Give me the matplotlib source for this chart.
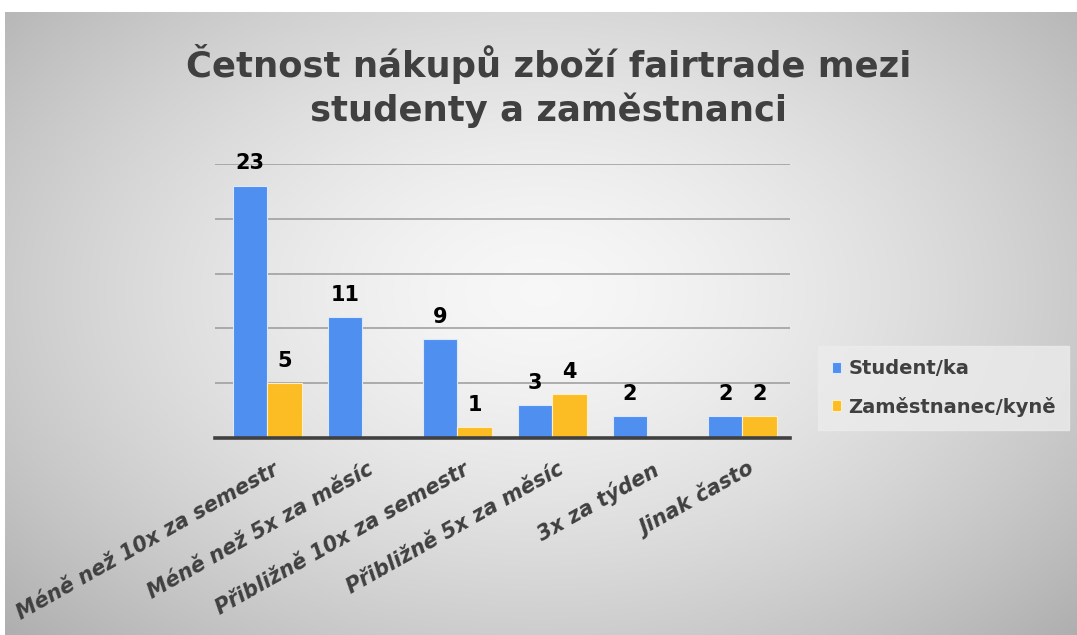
#!/usr/bin/env python3

"""
Četnost nákupů zboží fairtrade - grouped bar chart
"""

import numpy as np
import matplotlib
matplotlib.use("Agg")
import matplotlib.pyplot as plt
import matplotlib.transforms as mtransforms

categories = [
    "Méně než 10x za semestr",
    "Méně než 5x za měsíc",
    "Přibližně 10x za semestr",
    "Přibližně 5x za měsíc",
    "3x za týden",
    "Jinak často",
]
students = [23, 11, 9, 3, 2, 2]
employees = [5, 0, 1, 4, 0, 2]
series_names = ["Student/ka", "Zaměstnanec/kyně"]
title_lines = ["Četnost nákupů zboží fairtrade mezi", "studenty a zaměstnanci"]

BLUE = "#4f8ff0"
YELLOW = "#fbbd23"
DARK = "#404040"

plt.rcParams["font.family"] = ["DejaVu Sans"]

W, H = 1077, 635
fig = plt.figure(figsize=(W / 100, H / 100), dpi=100)
fig.patch.set_facecolor("white")

# radial grey gradient slide background (white strip on top / left)
bg = fig.add_axes([5 / W, 0, 1 - 5 / W, 1 - 12 / H])
gx, gy = np.meshgrid(np.linspace(-1, 1, 400), np.linspace(-1, 1, 240))
r = np.sqrt((gx / 1.1) ** 2 + ((gy + 0.1) / 1.25) ** 2)
shade = 0.97 - 0.2 * np.clip(r, 0, 1.3) ** 1.5
bg.imshow(np.dstack([shade] * 3), aspect="auto", extent=[0, 1, 0, 1],
          origin="upper", interpolation="bilinear")
bg.set_axis_off()

# title, one baseline per line
for line, base in zip(title_lines, (77, 121)):
    fig.text(549 / W, 1 - base / H, line, ha="center", va="baseline",
             fontsize=25.5, fontweight="bold", color=DARK)

ax = fig.add_axes([215 / W, 1 - 438 / H, (790 - 215) / W, (438 - 164) / H])
ax.patch.set_alpha(0)

x = np.arange(len(categories))
width = 0.365
b1 = ax.bar(x - width / 2, students, width, color=BLUE,
            edgecolor="#dce8fb", linewidth=0.8, label=series_names[0], zorder=3)
b2 = ax.bar(x + width / 2, employees, width, color=YELLOW,
            edgecolor="#fdf0c8", linewidth=0.8, label=series_names[1], zorder=3)

for bars, vals in ((b1, students), (b2, employees)):
    for bar, v in zip(bars, vals):
        if v == 0:
            continue
        ax.annotate(str(v), (bar.get_x() + bar.get_width() / 2, v),
                    xytext=(0, 9), textcoords="offset points",
                    ha="center", va="bottom", fontsize=15,
                    fontweight="bold", color="black")

ax.set_xlim(-0.55, 5.5)
ax.set_ylim(0, 25)
ax.set_yticks([5, 10, 15, 20, 25])
ax.yaxis.grid(True, color="#9a9a9a", linewidth=1.1, zorder=0)
ax.tick_params(axis="y", length=0, labelleft=False)
ax.tick_params(axis="x", length=0)
for side in ("top", "right", "left"):
    ax.spines[side].set_visible(False)
ax.spines["bottom"].set_color(DARK)
ax.spines["bottom"].set_linewidth(2.6)
ax.spines["bottom"].set_zorder(4)

ax.set_xticks(x)
ax.set_xticklabels(categories, rotation=29.5, rotation_mode="anchor",
                   ha="right", va="center", fontsize=15,
                   fontweight="bold", fontstyle="italic", color=DARK)
shift = mtransforms.ScaledTranslation(10 / 100, -25 / 100, fig.dpi_scale_trans)
for lbl in ax.get_xticklabels():
    lbl.set_transform(lbl.get_transform() + shift)

leg = ax.legend(loc="center left", bbox_to_anchor=(818 / W, 1 - 388 / H),
                bbox_transform=fig.transFigure, frameon=True, fancybox=False,
                borderaxespad=0, handlelength=0.5, handleheight=0.5,
                handletextpad=0.35, labelspacing=0.95, borderpad=0.7,
                prop={"size": 14, "weight": "bold"})
leg.get_frame().set_facecolor("#ececec")
leg.get_frame().set_edgecolor("#ececec")
for t in leg.get_texts():
    t.set_color(DARK)

fig.savefig("out.png", dpi=100)
